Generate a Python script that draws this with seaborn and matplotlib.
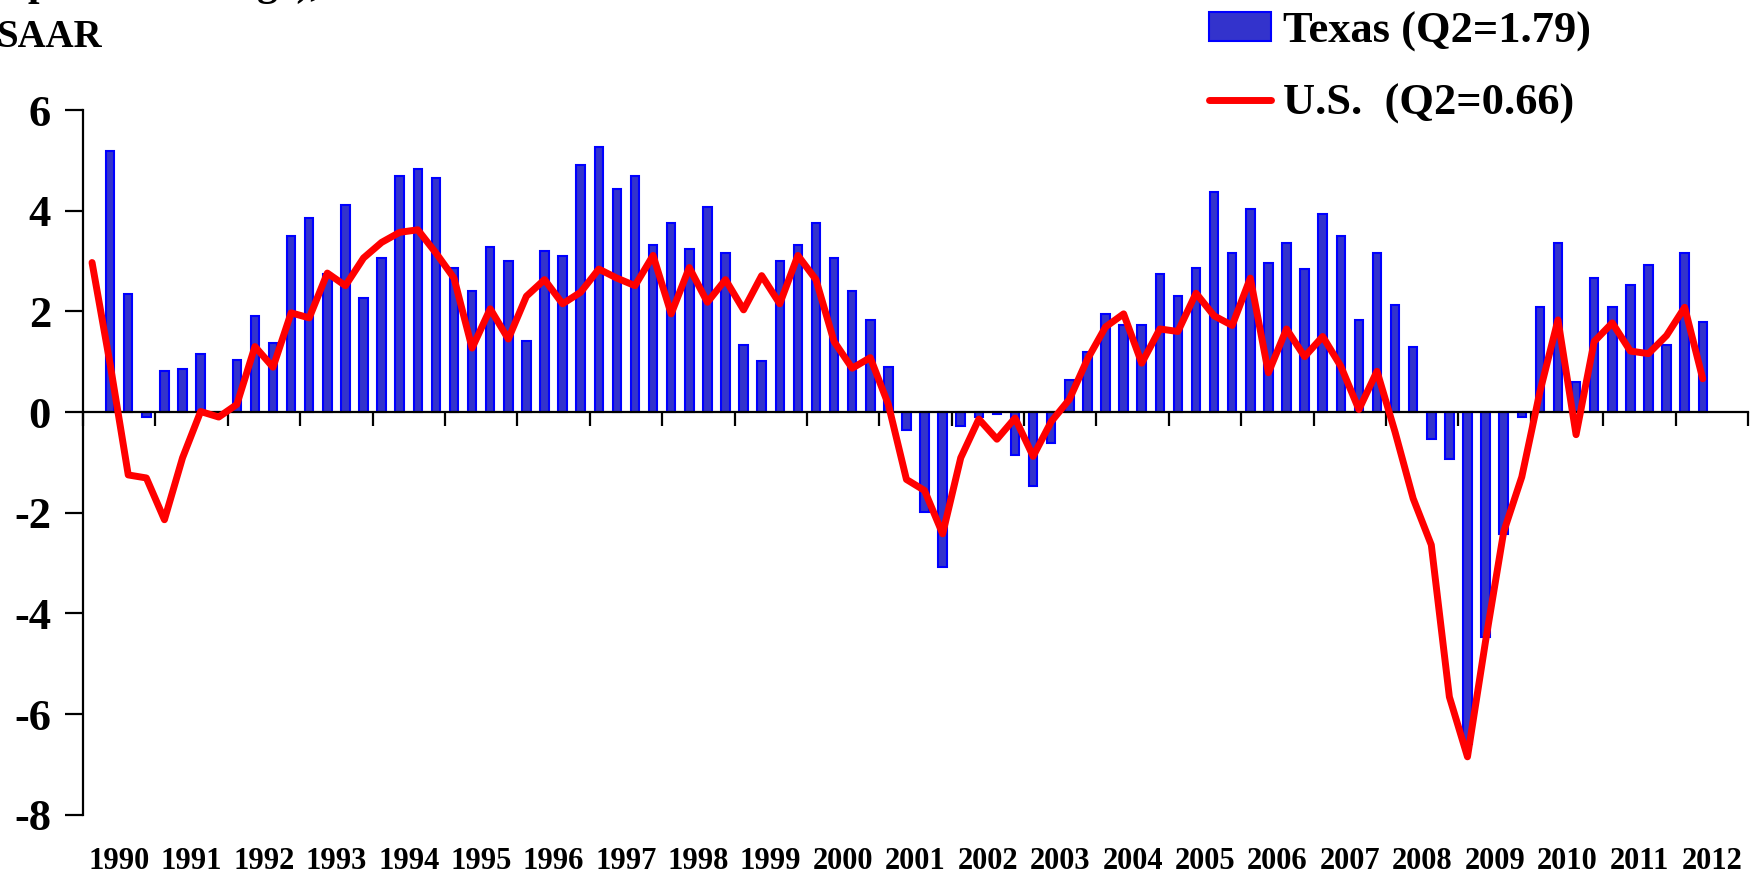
import numpy as np
import pandas as pd
import matplotlib
matplotlib.use("Agg")
import matplotlib.pyplot as plt
import seaborn as sns
from matplotlib.patches import Patch
from matplotlib.lines import Line2D

# ---------------- data: quarterly growth, 1990Q1 - 2012Q2 ---------------- #
years = list(range(1990, 2013))
quarters = [f"{y}Q{q}" for y in years for q in range(1, 5)][:90]

texas = [
    np.nan, 5.18, 2.35, -0.10, 0.81, 0.85, 1.16, 0.00,          # 1990-91
    1.03, 1.91, 1.38, 3.50, 3.85, 2.75, 4.11, 2.26,             # 1992-93
    3.05, 4.69, 4.82, 4.64, 2.87, 2.40, 3.28, 3.01,             # 1994-95
    1.42, 3.19, 3.10, 4.91, 5.26, 4.43, 4.68, 3.32,             # 1996-97
    3.76, 3.23, 4.07, 3.15, 1.33, 1.02, 3.01, 3.32,             # 1998-99
    3.76, 3.05, 2.40, 1.82, 0.89, -0.35, -1.99, -3.07,          # 2000-01
    -0.27, -0.09, -0.04, -0.85, -1.46, -0.62, 0.63, 1.20,       # 2002-03
    1.95, 1.73, 1.73, 2.75, 2.30, 2.87, 4.38, 3.15,             # 2004-05
    4.03, 2.97, 3.36, 2.84, 3.94, 3.50, 1.82, 3.15,             # 2006-07
    2.13, 1.29, -0.54, -0.93, -6.60, -4.47, -2.43, -0.09,       # 2008-09
    2.08, 3.36, 0.59, 2.66, 2.08, 2.52, 2.92, 1.33,             # 2010-11
    3.15, 1.79,                                                 # 2012
]

us = [
    2.97, 0.95, -1.25, -1.31, -2.14, -0.91, 0.01, -0.10,
    0.15, 1.30, 0.89, 1.97, 1.87, 2.76, 2.51, 3.06,
    3.37, 3.57, 3.62, 3.16, 2.66, 1.27, 2.05, 1.45,
    2.30, 2.63, 2.15, 2.38, 2.84, 2.66, 2.51, 3.11,
    1.95, 2.87, 2.18, 2.63, 2.03, 2.71, 2.15, 3.11,
    2.63, 1.40, 0.87, 1.08, 0.15, -1.34, -1.56, -2.42,
    -0.91, -0.14, -0.54, -0.12, -0.88, -0.19, 0.25, 1.05,
    1.69, 1.95, 0.97, 1.65, 1.60, 2.36, 1.91, 1.72,
    2.66, 0.78, 1.65, 1.10, 1.50, 0.91, 0.05, 0.81,
    -0.40, -1.72, -2.64, -5.66, -6.85, -4.55, -2.38, -1.29,
    0.40, 1.83, -0.45, 1.40, 1.77, 1.21, 1.16, 1.52,
    2.08, 0.66,
]

labels = ["Texas (Q2=1.79)", "U.S.  (Q2=0.66)"]

df = pd.DataFrame({"idx": np.arange(len(quarters)), "quarter": quarters,
                   "texas": texas, "us": us})

# ---------------- style ---------------- #
sns.set_theme(style="white")
plt.rcParams["font.family"] = ["Liberation Serif", "DejaVu Serif"]
plt.rcParams["font.weight"] = "bold"
plt.rcParams["text.color"] = "black"
plt.rcParams["xtick.color"] = "black"
plt.rcParams["ytick.color"] = "black"

W, H = 1765, 875
fig = plt.figure(figsize=(W / 100, H / 100), dpi=100)
ax = fig.add_axes([83 / W, 1 - 814.7 / H, (1748 - 83) / W, (814.7 - 110) / H])

sns.barplot(data=df, x="idx", y="texas", native_scale=True, errorbar=None,
            color="#3333CC", edgecolor="#0000FF", linewidth=1.5,
            width=0.47, saturation=1, ax=ax)
sns.lineplot(data=df, x="idx", y="us", color="#FF0000", linewidth=5,
             ax=ax, zorder=5)

ax.set_xlim(-0.5, 91.5)
ax.set_ylim(-8, 6)
ax.set_xlabel("")
ax.set_ylabel("")

for s in ("top", "right"):
    ax.spines[s].set_visible(False)
ax.spines["left"].set_color("black")
ax.spines["left"].set_linewidth(1.6)
ax.spines["bottom"].set_position(("data", 0))
ax.spines["bottom"].set_color("black")
ax.spines["bottom"].set_linewidth(1.6)

ax.set_yticks(range(-8, 7, 2))
ax.set_yticklabels([str(v) for v in range(-8, 7, 2)], fontsize=32, fontweight="bold")
ax.tick_params(axis="y", direction="out", length=13, width=1.6, pad=10, left=True)

ax.set_xticks(np.arange(-0.5, 92, 4))
ax.set_xticklabels([])
ax.tick_params(axis="x", direction="out", length=10, width=1.6, bottom=True)

# year labels along the bottom of the plot
sec = ax.secondary_xaxis(0)
sec.set_xticks(np.arange(1.5, 92, 4))
sec.set_xticklabels([str(y) for y in years], fontsize=22, fontweight="bold")
sec.tick_params(length=0, pad=23)
sec.spines["bottom"].set_visible(False)

# header text (partly cut off at the top edge, as in the source)
fig.text(28 / W, 1 + 5 / H, "percent change),", fontsize=30, fontweight="bold",
         va="baseline", ha="left")
fig.text(-3 / W, 1 - 47 / H, "SAAR", fontsize=28, fontweight="bold",
         va="baseline", ha="left")

handles = [Patch(facecolor="#3333CC", edgecolor="#0000FF", linewidth=1.5),
           Line2D([], [], color="#FF0000", linewidth=5, solid_capstyle="round")]
fig.legend(handles, labels, loc="upper left", bbox_to_anchor=(1187 / W, 1 + 11 / H),
           frameon=False, prop={"family": "Liberation Serif", "weight": "bold", "size": 32},
           handlelength=1.4, handleheight=0.6, handletextpad=0.25,
           labelspacing=0.72, borderpad=0.0)

fig.savefig("out.png", dpi=100)
